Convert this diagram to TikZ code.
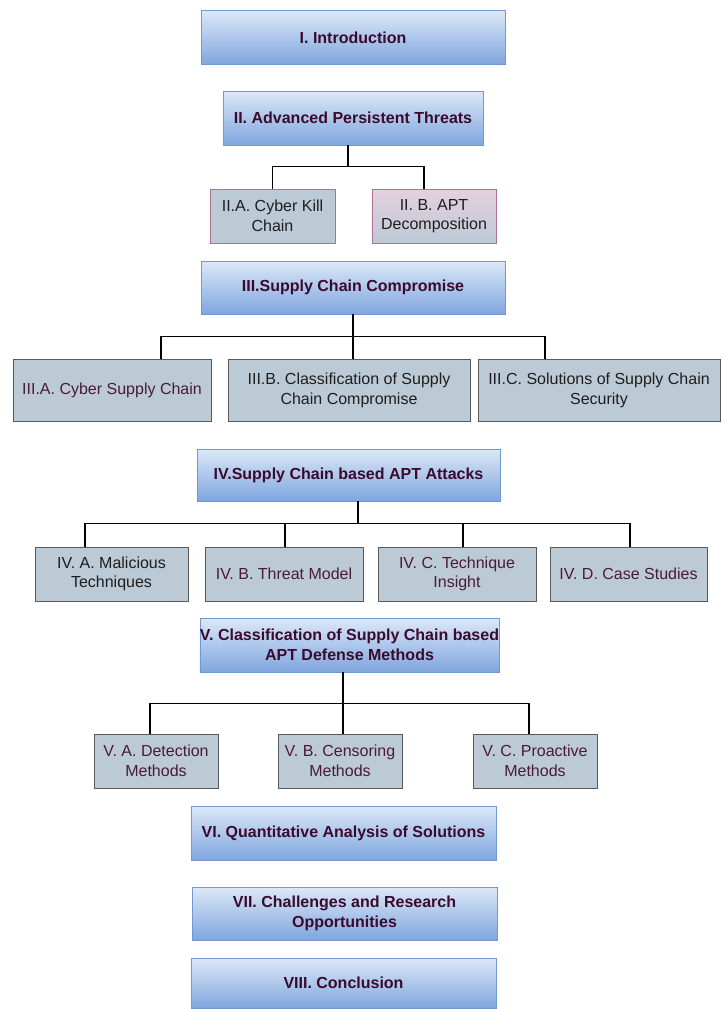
\documentclass[tikz,border=0pt]{standalone}
\usepackage{fontspec}
\setmainfont{Liberation Sans}
\begin{document}
\definecolor{maroon}{HTML}{3B0A2D}
\definecolor{plum}{HTML}{4A1A3C}
\definecolor{ink}{HTML}{1E1E1E}
\definecolor{bluetop}{HTML}{DCE8F8}
\definecolor{bluebot}{HTML}{7FA6DE}
\definecolor{blueedge}{HTML}{7198D0}
\definecolor{slate}{HTML}{BCCAD6}
\definecolor{pinktop}{HTML}{E6D0DE}
\definecolor{pinkedge}{HTML}{B0708F}
\begin{tikzpicture}[x=1pt,y=-1pt,
  every node/.style={font=\fontsize{16}{19.5}\selectfont, align=center, inner sep=0pt},
  chapter/.style={draw=blueedge, line width=0.9pt, top color=bluetop, bottom color=bluebot,
                  text=maroon, font=\fontsize{16}{19.5}\selectfont\bfseries},
  section/.style={draw=black!65, line width=0.9pt, fill=slate, text=ink},
  tree/.style={line width=1.6pt, black}]
\useasboundingbox (0,0) rectangle (725,1009);

% chapter boxes
\node[chapter, minimum width=304pt, minimum height=54pt] (intro) at (353,37.5) {I. Introduction};
\node[chapter, minimum width=260pt, minimum height=54pt] (apt) at (353,118) {II. Advanced Persistent Threats};
\node[chapter, minimum width=304pt, minimum height=53pt] (scc) at (353,287.5) {III.Supply Chain Compromise};
\node[chapter, minimum width=303pt, minimum height=52pt] (scapt) at (348.5,475) {IV.Supply Chain based APT Attacks};
\node[chapter, minimum width=299pt, minimum height=54pt] (defense) at (349.5,645) {V. Classification of Supply Chain based\\APT Defense Methods};
\node[chapter, minimum width=305pt, minimum height=54pt] (quant) at (343.5,833) {VI. Quantitative Analysis of Solutions};
\node[chapter, minimum width=305pt, minimum height=53pt] (chall) at (344.5,913.5) {VII. Challenges and Research\\Opportunities};
\node[chapter, minimum width=305pt, minimum height=50pt] (concl) at (343.5,983) {VIII. Conclusion};

% section II
\node[section, draw=pinkedge, minimum width=125pt, minimum height=54pt] (killchain) at (272.5,216) {II.A. Cyber Kill\\Chain};
\node[section, draw=pinkedge, top color=pinktop, bottom color=slate, minimum width=124pt, minimum height=54pt] (decomp) at (434,216) {II. B. APT\\Decomposition};

% section III
\node[section, text=plum, minimum width=198pt, minimum height=62pt] (cybersc) at (112,390.5) {III.A. Cyber Supply Chain};
\node[section, minimum width=242pt, minimum height=62pt] (classsc) at (349,390.5) {III.B. Classification of Supply\\Chain Compromise};
\node[section, minimum width=242pt, minimum height=62pt] (solsc) at (599,390.5) {III.C. Solutions of Supply Chain\\Security};

% section IV
\node[section, minimum width=153pt, minimum height=54pt] (malic) at (111.5,574) {IV. A. Malicious\\Techniques};
\node[section, text=plum, minimum width=158pt, minimum height=54pt] (threat) at (284,574) {IV. B. Threat Model};
\node[section, text=plum, minimum width=158pt, minimum height=54pt] (insight) at (457,574) {IV. C. Technique\\Insight};
\node[section, text=plum, minimum width=157pt, minimum height=54pt] (cases) at (628.5,574) {IV. D. Case Studies};

% section V
\node[section, text=plum, minimum width=124pt, minimum height=54pt] (detect) at (156,761) {V. A. Detection\\Methods};
\node[section, text=plum, minimum width=124pt, minimum height=54pt] (censor) at (340,761) {V. B. Censoring\\Methods};
\node[section, text=plum, minimum width=124pt, minimum height=54pt] (proact) at (535,761) {V. C. Proactive\\Methods};

% tree connectors
\draw[tree] (apt.south -| 348,0) -- ++(0,21) coordinate (j2);
\draw[tree] (killchain.north) |- (j2) -| (decomp.north -| 424,0);

\draw[tree] (scc.south) -- (classsc.north -| scc.south) coordinate (b3);
\path (scc.south) ++(0,22) coordinate (j3);
\draw[tree] (cybersc.north -| 161,0) |- (j3) -| (solsc.north -| 545,0);

\draw[tree] (scapt.south -| 358,0) -- ++(0,22) coordinate (j4);
\draw[tree] (malic.north -| 85,0) |- (j4) -| (cases.north -| 630,0);
\draw[tree] (threat.north -| 285,0) -- (j4 -| 285,0);
\draw[tree] (insight.north -| 463,0) -- (j4 -| 463,0);

\draw[tree] (defense.south -| 343,0) -- (censor.north -| 343,0);
\path (defense.south -| 343,0) ++(0,31) coordinate (j5);
\draw[tree] (detect.north -| 150,0) |- (j5) -| (proact.north -| 529,0);
\end{tikzpicture}
\end{document}
